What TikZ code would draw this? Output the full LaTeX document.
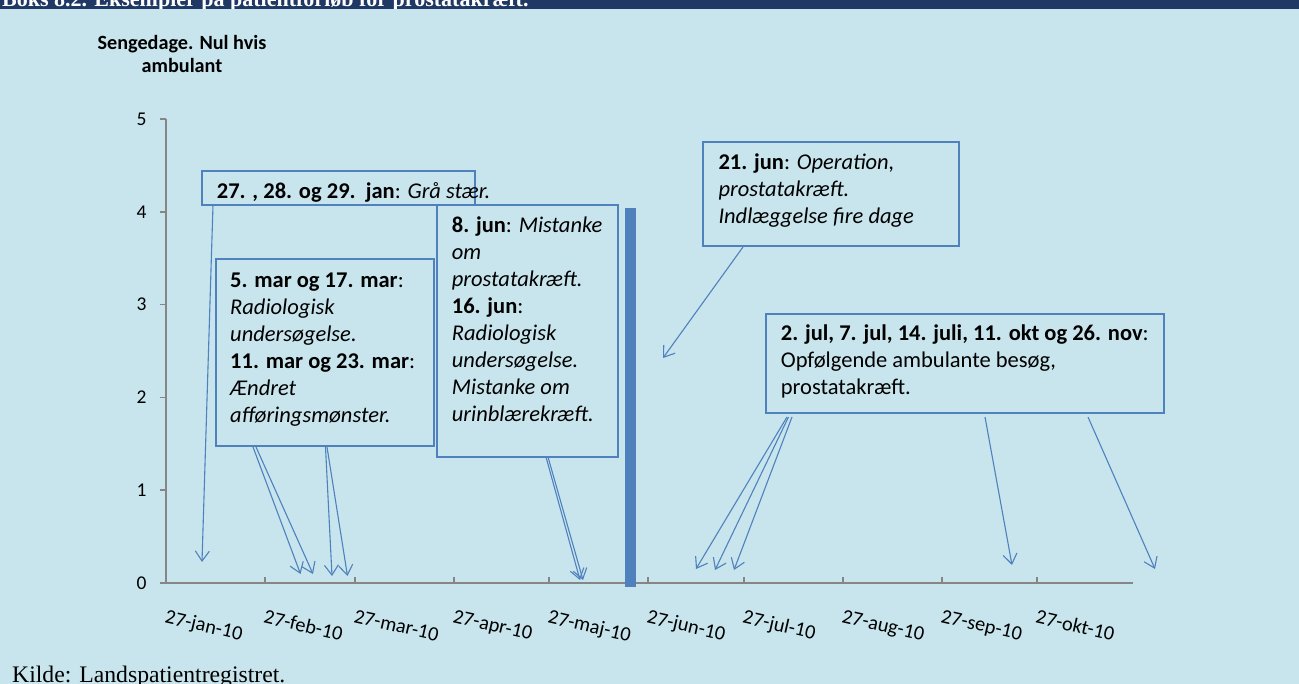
\documentclass[tikz,border=0pt]{standalone}
\usepackage{fontspec}
\setmainfont{Carlito}
\newfontfamily\serifhead{Liberation Serif}
\usetikzlibrary{arrows.meta,calc}
\definecolor{panelbg}{RGB}{200,229,237}
\definecolor{headbg}{RGB}{31,56,100}
\definecolor{accent}{RGB}{79,129,189}
\definecolor{axisgray}{RGB}{134,134,134}

\begin{document}
\begin{tikzpicture}[x=1pt,y=-1pt,
  callbox/.style={draw=accent, line width=1.3pt, fill=panelbg, inner sep=0pt, outer sep=0pt, anchor=north west},
  calltext/.style={anchor=north west, inner sep=0pt, align=left, font=\fontsize{22.5}{27}\selectfont},
  pointer/.style={draw=accent, line width=1.1pt, -{Straight Barb[length=10pt,width=14pt,line width=1.1pt]}},
  axisline/.style={draw=axisgray, line width=1.6pt},
  ticklab/.style={inner sep=0pt, font=\fontsize{19.5}{23}\selectfont},
  datelab/.style={inner sep=0pt, anchor=north west, rotate=-13, font=\fontsize{20.3}{24}\selectfont},
]
\useasboundingbox (0,0) rectangle (1299,684);
\fill[panelbg] (0,0) rectangle (1299,684);

% heading band, its title cut by the top edge
\fill[headbg] (0,0) rectangle (1299,9);
\begin{scope}
  \clip (0,0) rectangle (1299,9);
  \node[anchor=base west, inner sep=0pt, text=white,
        font=\serifhead\bfseries\fontsize{22}{26}\selectfont] (title) at (2,6.5)
        {Boks 8.2. Eksempler på patientforløb for prostatakræft.};
\end{scope}

% value axis title
\node[anchor=north, align=center, inner sep=0pt,
      font=\bfseries\fontsize{20.2}{23.3}\selectfont] (ytitle) at (182,33)
      {\strut Sengedage. Nul hvis\\ambulant};

% axes
\draw[axisline] (166,119) -- (166,583);
\draw[axisline] (160,583) -- (1133,583);
\foreach \v in {0,...,5} {
  \draw[axisline] (160,583-92.8*\v) -- (166,583-92.8*\v);
  \node[ticklab] (ylab\v) at (141.5,583-92.8*\v) {\v};
}
\foreach \x in {265,355,454,549,648,744,843,942,1037}
  \draw[axisline] (\x,577) -- (\x,583);

% date labels
\foreach \x/\d [count=\i] in {166/jan,265/feb,355/mar,454/apr,549/maj,648/jun,744/jul,843/aug,942/sep,1037/okt}
  \node[datelab] (date\i) at (\x+1,609) {27-\d-10};

% hospital stay: four bed days
\fill[accent] (625,208) rectangle (635.5,586.5);

% callout boxes
\node[callbox, minimum width=273pt, minimum height=34pt] (janbox) at (202,171) {};
\node[callbox, minimum width=181pt, minimum height=252pt] (junbox) at (437,205) {};
\node[callbox, minimum width=218pt, minimum height=187pt] (marbox) at (216,259) {};
\node[callbox, minimum width=256pt, minimum height=104pt] (opbox) at (703,142) {};
\node[callbox, minimum width=398pt, minimum height=99pt] (julbox) at (766,314) {};

\node[calltext] (jantext) at (216.7,179.1)
  {\strut\textbf{27. , 28. og 29.\ \ jan}: \textit{Grå stær.}};
\node[calltext] (martext) at (230,268.4)
  {\strut\textbf{5. mar og 17. mar}:\\
   \textit{Radiologisk}\\
   \textit{undersøgelse.}\\
   \textbf{11. mar og 23. mar}:\\
   \textit{Ændret}\\
   \textit{afføringsmønster.}};
\node[calltext] (juntext) at (451.7,213.8)
  {\strut\textbf{8. jun}: \textit{Mistanke}\\
   \textit{om}\\
   \textit{prostatakræft.}\\
   \textbf{16. jun}:\\
   \textit{Radiologisk}\\
   \textit{undersøgelse.}\\
   \textit{Mistanke om}\\
   \textit{urinblærekræft.}};
\node[calltext] (optext) at (718.3,150.4)
  {\strut\textbf{21. jun}: \textit{Operation,}\\
   \textit{prostatakræft.}\\
   \textit{Indlæggelse fire dage}};
\node[calltext] (jultext) at (780.7,321.8)
  {\strut\textbf{2. jul, 7. jul, 14. juli, 11. okt og 26. nov}:\\
   Opfølgende ambulante besøg,\\
   prostatakræft.};

% pointer tips on the time axis
\coordinate (tipJan) at (202,562);
\coordinate (tipMarA) at (300.5,574);
\coordinate (tipMarB) at (313,574);
\coordinate (tipMarC) at (332,576);
\coordinate (tipMarD) at (347.5,576);
\coordinate (tipJunA) at (580,580);
\coordinate (tipJunB) at (583,580);
\coordinate (tipOp) at (663,358);
\coordinate (tipJulA) at (696,569);
\coordinate (tipJulB) at (715,570);
\coordinate (tipJulC) at (734,570);
\coordinate (tipOkt) at (1012,565);
\coordinate (tipNov) at (1155,569);

% pointers
\draw[pointer] ($(janbox.south west)+(11,0)$) -- (tipJan);
\draw[pointer] ($(marbox.south west)+(37,1)$) -- (tipMarA);
\draw[pointer] ($(marbox.south west)+(40,1)$) -- (tipMarB);
\draw[pointer] ($(marbox.south west)+(109.5,1)$) -- (tipMarC);
\draw[pointer] ($(marbox.south west)+(111,1)$) -- (tipMarD);
\draw[pointer] ($(junbox.south west)+(109,0)$) -- (tipJunA);
\draw[pointer] ($(junbox.south west)+(111,0)$) -- (tipJunB);
\draw[pointer] ($(opbox.south west)+(40,1)$) -- (tipOp);
\draw[pointer] ($(julbox.south west)+(21,4)$) -- (tipJulA);
\draw[pointer] ($(julbox.south west)+(22.5,4)$) -- (tipJulB);
\draw[pointer] ($(julbox.south west)+(26,4)$) -- (tipJulC);
\draw[pointer] ($(julbox.south west)+(219,4)$) -- (tipOkt);
\draw[pointer] ($(julbox.south west)+(322,4)$) -- (tipNov);

% source line
\node[anchor=base west, inner sep=0pt, font=\serifhead\fontsize{23.7}{28}\selectfont]
  (source) at (12,682) {Kilde: Landspatientregistret.};
\end{tikzpicture}
\end{document}
